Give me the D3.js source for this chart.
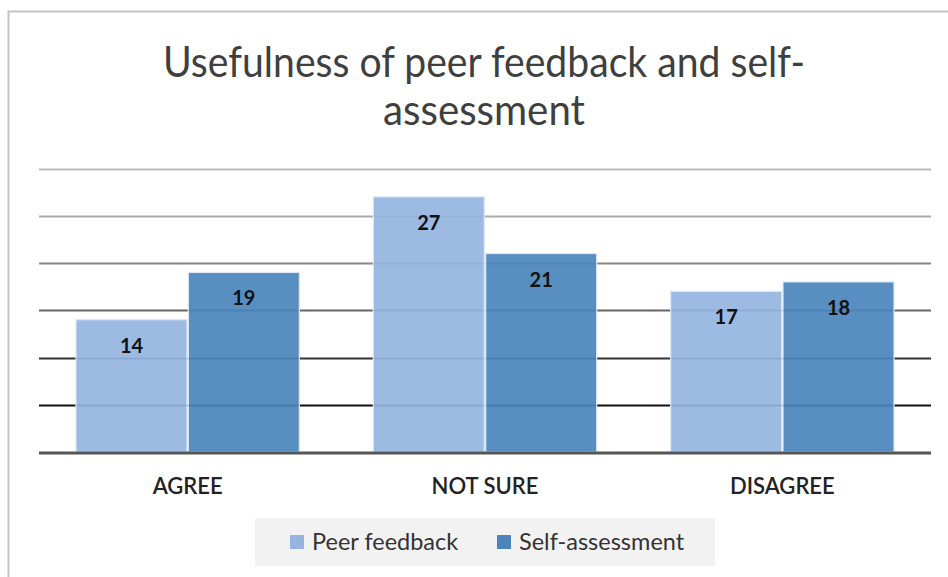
<!DOCTYPE html>
<html><head><meta charset="utf-8">
<script src="https://cdn.jsdelivr.net/npm/d3@7"></script>
<style>body{margin:0;background:#fff}svg{display:block}</style>
</head><body>
<script>
const categories = ["AGREE", "NOT SURE", "DISAGREE"];
const seriesNames = ["Peer feedback", "Self-assessment"];
const peerFeedback = [14, 27, 17];
const selfAssessment = [19, 21, 18];
const yTicks = [0, 5, 10, 15, 20, 25, 30];
const titleLines = ["Usefulness of peer feedback and self-", "assessment"];

const W = 948, H = 577;
const colors = ["#95b4df", "#4a86bb"];
const gridColors = ["#555", "#111", "#333", "#666", "#888", "#aaa", "#bbb"];
const font = "Lato, 'Open Sans', sans-serif";

const svg = d3.select("body").append("svg").attr("width", W).attr("height", H);
svg.append("rect").attr("width", W).attr("height", H).attr("fill", "#fff");
// frame
svg.append("path").attr("d", "M8.5," + H + " V11.5 H" + W)
  .attr("fill", "none").attr("stroke", "#c4c4c4").attr("stroke-width", 2);

const x0 = d3.scaleBand().domain(categories).range([39, 931]).paddingInner(0).paddingOuter(0);
const x1 = d3.scaleBand().domain(seriesNames).range([37, x0.bandwidth() - 37]).paddingInner(0.012);
const y = d3.scaleLinear().domain([0, 30]).range([452, 168.5]);

// gridlines
svg.append("g").selectAll("line").data(yTicks.slice(1)).join("line")
  .attr("x1", 39).attr("x2", 931)
  .attr("y1", d => Math.round(y(d)) + 0.5).attr("y2", d => Math.round(y(d)) + 0.5)
  .attr("stroke", (d, i) => gridColors[i + 1]).attr("stroke-width", 2);

const data = categories.map((c, i) => ({cat: c, vals: [peerFeedback[i], selfAssessment[i]]}));

const g = svg.append("g");
data.forEach(d => {
  d.vals.forEach((v, j) => {
    const bx = x0(d.cat) + x1(seriesNames[j]);
    g.append("rect").attr("x", bx).attr("y", y(v)).attr("width", x1.bandwidth())
      .attr("height", y(0) - y(v)).attr("fill", colors[j]).attr("fill-opacity", 0.92)
      .attr("stroke", "#dce8f6").attr("stroke-width", 1.2);
    g.append("text").attr("x", bx + x1.bandwidth() / 2).attr("y", y(v) + 33)
      .attr("text-anchor", "middle").attr("font-family", font).attr("font-weight", "bold")
      .attr("font-size", 20).attr("fill", "#111").text(v);
  });
});

// baseline
svg.append("line").attr("x1", 39).attr("x2", 931).attr("y1", y(0) + 1).attr("y2", y(0) + 1)
  .attr("stroke", "#555").attr("stroke-width", 3);

// x axis labels
svg.append("g").selectAll("text").data(categories).join("text")
  .attr("x", d => x0(d) + x0.bandwidth() / 2).attr("y", 494)
  .attr("text-anchor", "middle").attr("font-family", font).attr("font-size", 22)
  .attr("font-weight", 600).attr("fill", "#222").text(d => d);

// title
const titleW = [642, 202];
titleLines.forEach((t, i) => {
  svg.append("text").attr("x", 484).attr("y", 77 + i * 48)
    .attr("text-anchor", "middle").attr("font-family", font).attr("font-size", 43)
    .attr("textLength", titleW[i]).attr("lengthAdjust", "spacingAndGlyphs")
    .attr("fill", "#3f3f3f").text(t);
});

// legend
svg.append("rect").attr("x", 255).attr("y", 518).attr("width", 460).attr("height", 48).attr("fill", "#f2f2f2");
const legX = [290, 497];
seriesNames.forEach((s, i) => {
  svg.append("rect").attr("x", legX[i]).attr("y", 535).attr("width", 14).attr("height", 14).attr("fill", colors[i]);
  svg.append("text").attr("x", legX[i] + 22).attr("y", 550).attr("font-family", font)
    .attr("font-size", 23.5).attr("fill", "#333").text(s);
});
</script>
</body></html>
